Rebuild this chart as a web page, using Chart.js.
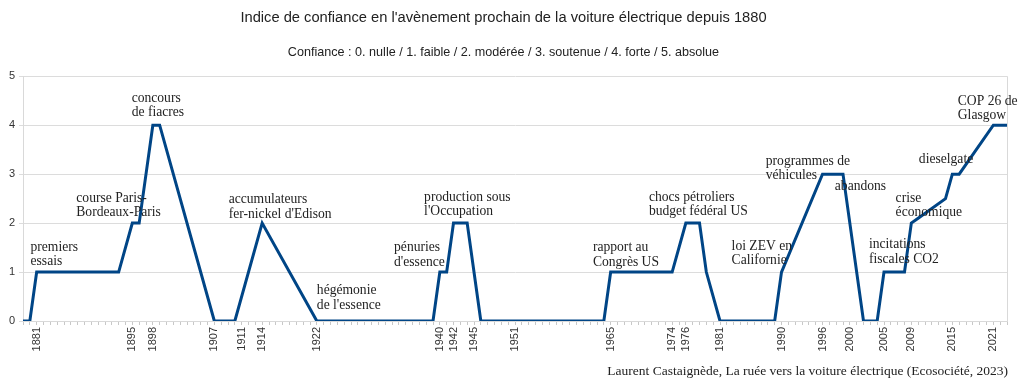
<!DOCTYPE html>
<html><head><meta charset="utf-8">
<script src="https://cdn.jsdelivr.net/npm/chart.js@4/dist/chart.umd.min.js"></script>
<style>html,body{margin:0;padding:0;background:#fff}#wrap{width:1024px;height:388px;position:relative}</style>
</head><body><div id="wrap"><canvas id="c" width="1024" height="388"></canvas></div>
<script>
// ---- data ----
const years = [1879,1880,1881,1893,1895,1896,1898,1899,1907,1910,1914,1922,1939,1940,1941,1942,1944,1946,1964,1965,1974,1976,1978,1979,1981,1989,1990,1996,1999,2002,2004,2005,2008,2009,2010,2014,2015,2016,2021,2023];
const confidence = [0,0,1,1,2,2,4,4,0,0,2,0,0,1,1,2,2,0,0,1,1,2,2,1,0,0,1,3,3,0,0,1,1,2,2.1,2.5,3,3,4,4];
const labeledYears = [1881,1895,1898,1907,1911,1914,1922,1940,1942,1945,1951,1965,1974,1976,1981,1990,1996,2000,2005,2009,2015,2021];
const yearMin = 1879, yearMax = 2023;
const yMin = 0, yMax = 5;

const annotationTexts = [
  ["premiers","essais"],
  ["course Paris-","Bordeaux-Paris"],
  ["concours","de fiacres"],
  ["accumulateurs","fer-nickel d'Edison"],
  ["hégémonie","de l'essence"],
  ["pénuries","d'essence"],
  ["production sous","l'Occupation"],
  ["rapport au","Congrès US"],
  ["chocs pétroliers","budget fédéral US"],
  ["loi ZEV en","Californie"],
  ["programmes de","véhicules"],
  ["abandons"],
  ["crise","économique"],
  ["incitations","fiscales CO2"],
  ["dieselgate"],
  ["COP 26 de","Glasgow"]
];
// anchor of each annotation (year, level) for its first text line
const annotationYears  = [1880.1,1886.8,1894.9,1909.1,1922.0,1933.3,1937.7,1962.4,1970.6,1982.7,1987.7,1997.8,2006.7,2002.8,2010.1,2015.8];
const annotationLevels = [1.51,2.51,4.55,2.48,0.62,1.50,2.53,1.50,2.53,1.53,3.27,2.74,2.51,1.56,3.30,4.49];

const titleText = "Indice de confiance en l'avènement prochain de la voiture électrique depuis 1880";
const subtitleText = "Confiance : 0. nulle / 1. faible / 2. modérée / 3. soutenue / 4. forte / 5. absolue";
const sourceText = "Laurent Castaignède, La ruée vers la voiture électrique (Ecosociété, 2023)";

const points = years.map((y, i) => ({x: y, y: confidence[i]}));

const annotationPlugin = {
  id: 'annotations',
  afterDatasetsDraw(chart) {
    const {ctx, scales} = chart;
    ctx.save();
    ctx.font = '13.6px "Liberation Serif"';
    ctx.fillStyle = '#222';
    ctx.textAlign = 'left';
    ctx.textBaseline = 'middle';
    annotationTexts.forEach((lines, i) => {
      const px = scales.x.getPixelForValue(annotationYears[i]);
      const py = scales.y.getPixelForValue(annotationLevels[i]);
      lines.forEach((t, j) => ctx.fillText(t, px, py + j * 14.5));
    });
    ctx.restore();
  },
  afterDraw(chart) {
    const {ctx, chartArea} = chart;
    ctx.save();
    ctx.font = '13.5px "Liberation Serif"';
    ctx.fillStyle = '#222';
    ctx.textAlign = 'right';
    ctx.textBaseline = 'middle';
    ctx.fillText(sourceText, chartArea.right + 1, 371);
    ctx.restore();
  }
};

new Chart(document.getElementById('c'), {
  type: 'scatter',
  data: {
    datasets: [{
      data: points,
      showLine: true,
      borderColor: '#004586',
      backgroundColor: '#004586',
      borderWidth: 3,
      pointRadius: 0,
      pointHoverRadius: 0,
      tension: 0,
      borderJoinStyle: 'miter'
    }]
  },
  options: {
    responsive: false,
    animation: false,
    devicePixelRatio: 1,
    layout: {padding: {left: 0, right: 17, top: 0, bottom: 0}},
    plugins: {
      legend: {display: false},
      tooltip: {enabled: false},
      title: {
        display: true, text: titleText, color: '#222',
        font: {family: 'Liberation Sans', size: 14.7, weight: 'normal'},
        padding: {top: 9.5, bottom: 18}
      },
      subtitle: {
        display: true, text: subtitleText, color: '#222',
        font: {family: 'Liberation Sans', size: 12.6, weight: 'normal'},
        padding: {top: 0, bottom: 16}
      }
    },
    scales: {
      x: {
        type: 'linear', min: yearMin, max: yearMax,
        afterFit(scale) { scale.height = 67; },
        grid: {
          drawOnChartArea: true,
          color: (c) => (c.tick && c.tick.value === yearMax) ? '#d9d9d9' : 'rgba(0,0,0,0)',
          tickColor: '#c8c8c8',
          tickLength: 4,
          lineWidth: 1
        },
        border: {display: true, color: '#d9d9d9'},
        ticks: {
          stepSize: 1,
          autoSkip: false,
          minRotation: 90, maxRotation: 90,
          padding: 2,
          color: '#333',
          font: {family: 'Liberation Sans', size: 11},
          callback: (v) => labeledYears.includes(v) ? String(v) : ''
        }
      },
      y: {
        min: yMin, max: yMax,
        afterFit(scale) { scale.width = 23; },
        grid: {color: '#dcdcdc', tickLength: 4, tickColor: '#dcdcdc'},
        border: {display: true, color: '#d9d9d9'},
        ticks: {
          stepSize: 1, padding: 4, color: '#333',
          font: {family: 'Liberation Sans', size: 11}
        }
      }
    }
  },
  plugins: [annotationPlugin]
});
</script>
</body></html>
